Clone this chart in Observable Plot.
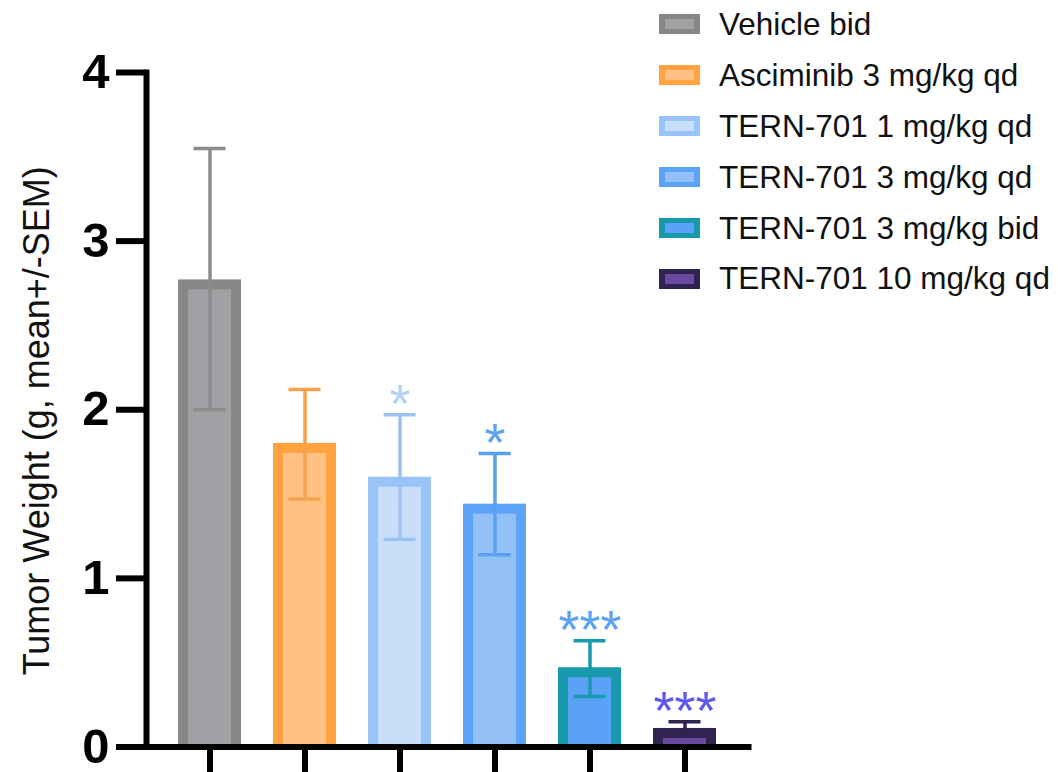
<!DOCTYPE html>
<html>
<head>
<meta charset="utf-8">
<script src="https://cdn.jsdelivr.net/npm/d3@7"></script>
<script src="https://cdn.jsdelivr.net/npm/@observablehq/plot@0.6"></script>
<style>
  html, body { margin: 0; padding: 0; background: #fff; }
  #wrap { position: relative; width: 1058px; height: 772px; font-family: "Liberation Sans", Arial, sans-serif; }
  #legend { position: absolute; left: 659px; top: -1px; }
  .row { display: flex; align-items: center; height: 50.9px; }
  .sw { box-sizing: border-box; width: 41px; height: 20px; border-style: solid; border-width: 5px 6px; }
  .lab { margin-left: 19px; font-size: 31.5px; color: #111; white-space: nowrap; }
</style>
</head>
<body>
<div id="wrap"><div id="chart"></div><div id="legend"></div></div>
<script>
// ---- data ----
const groups = ["Vehicle bid", "Asciminib 3 mg/kg qd", "TERN-701 1 mg/kg qd", "TERN-701 3 mg/kg qd", "TERN-701 3 mg/kg bid", "TERN-701 10 mg/kg qd"];
const means = [2.77, 1.80, 1.60, 1.44, 0.47, 0.11];
const lows  = [2.00, 1.47, 1.23, 1.14, 0.30, 0.07];
const highs = [3.55, 2.12, 1.97, 1.74, 0.63, 0.15];
const stars = ["", "", "*", "*", "***", "***"];
const yTicks = [0, 1, 2, 3, 4];
const yLabel = "Tumor Weight (g, mean+/-SEM)";

// ---- colours ----
const borderColors = ["#878787", "#ffa23f", "#9ac3f7", "#5ca3f8", "#1899ad", "#30234f"];
const innerColors  = ["#a1a1a5", "#ffc283", "#c9def8", "#93c0f7", "#5aa2f6", "#6b4aa1"];
const errorColors  = ["#8c8c8c", "#f7a24e", "#9cc2f2", "#5b9ff0", "#1a9aae", "#30234f"];
const starColors   = ["#000000", "#000000", "#b3d1f5", "#5fa2f0", "#5ea3f2", "#5c58f0"];

const data = groups.map((g, i) => ({
  group: g, mean: means[i], lo: lows[i], hi: highs[i], star: stars[i],
  border: borderColors[i], inner: innerColors[i], err: errorColors[i], starColor: starColors[i]
}));
const starData = data.filter(d => d.star);

const font = '"Liberation Sans", Arial, sans-serif';

const chart = Plot.plot({
  width: 1058,
  height: 772,
  marginLeft: 146,
  marginRight: 310,
  marginTop: 72,
  marginBottom: 25.5,
  style: { fontFamily: font, background: "white" },
  x: { type: "band", domain: groups, paddingInner: 0.333, paddingOuter: 0.333, axis: null },
  y: { domain: [0, 4], axis: null },
  color: { type: "identity" },
  marks: [
    Plot.barY(data, { x: "group", y: "mean", fill: "border" }),
    Plot.barY(data, { x: "group", y: "mean", fill: "inner", insetTop: 10, insetLeft: 10, insetRight: 10 }),
    Plot.ruleX(data, { x: "group", y1: "lo", y2: "hi", stroke: "err", strokeWidth: 3.5 }),
    Plot.tickY(data, { x: "group", y: "hi", stroke: "err", strokeWidth: 3.5, insetLeft: 15.5, insetRight: 15.5 }),
    Plot.tickY(data, { x: "group", y: "lo", stroke: "err", strokeWidth: 3.5, insetLeft: 15.5, insetRight: 15.5 }),
    Plot.text(starData, { x: "group", y: "hi", text: "star", fill: "starColor", fontSize: 54, lineAnchor: "bottom", dy: 7 }),
    Plot.frame({ anchor: "left", stroke: "black", strokeWidth: 6, strokeLinecap: "square" }),
    Plot.frame({ anchor: "bottom", stroke: "black", strokeWidth: 6, strokeLinecap: "square" }),
    Plot.axisY({ ticks: yTicks, tickSize: 30, tickPadding: 7, strokeWidth: 6, stroke: "black", fill: "black",
                 fontSize: 49, fontWeight: "bold", label: null, tickFormat: d => String(d) }),
    Plot.axisX({ tickSize: 26, strokeWidth: 6, stroke: "black", tickFormat: () => "", label: null }),
    Plot.text([yLabel], { text: d => d, frameAnchor: "left", textAnchor: "middle", lineAnchor: "middle",
                          rotate: -90, dx: -109, dy: 11, fontSize: 36, fill: "#111" })
  ]
});
document.getElementById("chart").appendChild(chart);

// ---- legend ----
const legend = document.getElementById("legend");
data.forEach(d => {
  const row = document.createElement("div");
  row.className = "row";
  const sw = document.createElement("div");
  sw.className = "sw";
  sw.style.borderColor = d.border;
  sw.style.background = d.inner;
  const lab = document.createElement("span");
  lab.className = "lab";
  lab.textContent = d.group;
  row.appendChild(sw);
  row.appendChild(lab);
  legend.appendChild(row);
});
</script>
</body>
</html>
